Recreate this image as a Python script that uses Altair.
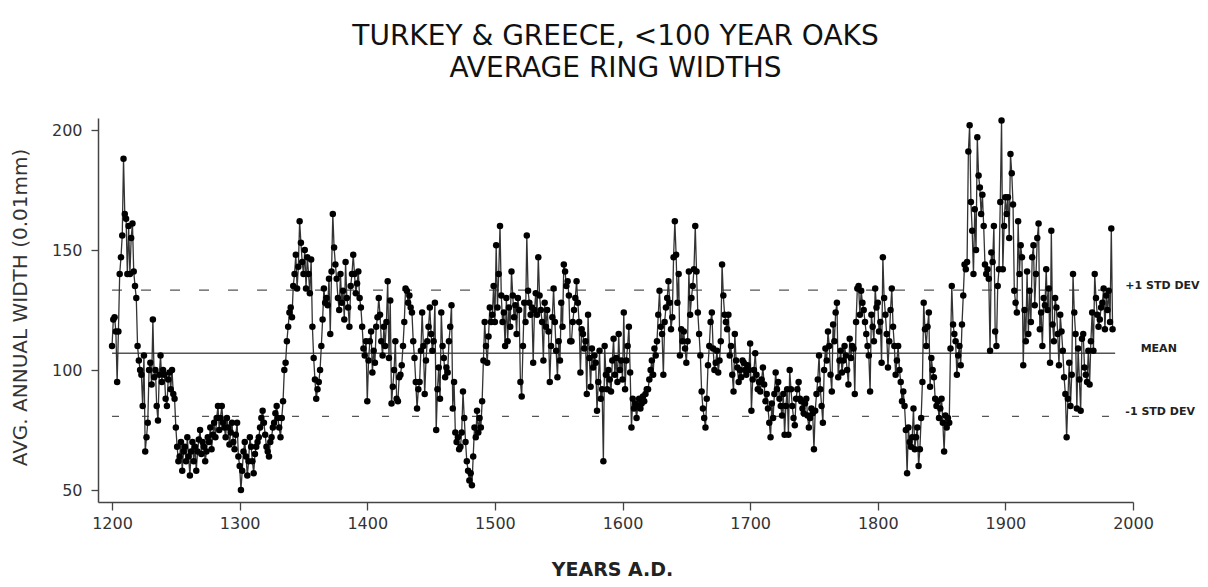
import altair as alt
import pandas as pd

# Average ring widths (0.01 mm), one value per year
w1200 = [110, 121, 122, 116, 95, 116, 140, 147, 156, 188,
         165, 163, 140, 160, 140, 155, 161, 141, 135, 130,
         110, 104, 100, 98, 85, 106, 66, 72, 78, 100,
         103, 94, 121, 97, 100, 85, 79, 98, 106, 95,
         100, 98, 88, 85, 96, 99, 92, 100, 90, 88,
         76, 68, 62, 64, 70, 58, 66, 68, 62, 72,
         64, 56, 66, 70, 62, 68, 58, 66, 71, 75,
         65, 70, 68, 62, 66, 72, 70, 76, 67, 73,
         78, 72, 80, 85, 75, 80, 85, 78, 76, 72,
         80, 76, 69, 74, 78, 70, 67, 73, 78, 64]
w1300 = [60, 50, 58, 66, 70, 64, 56, 62, 72, 68,
         62, 57, 65, 68, 70, 72, 76, 80, 83, 78,
         73, 68, 66, 64, 70, 72, 76, 78, 82, 85,
         80, 76, 72, 80, 87, 100, 103, 112, 118, 124,
         126, 122, 135, 140, 148, 134, 143, 162, 153, 145,
         140, 150, 134, 147, 140, 132, 146, 118, 105, 96,
         88, 92, 95, 100, 110, 121, 134, 128, 130, 127,
         138, 115, 141, 165, 151, 144, 138, 130, 125, 140,
         128, 133, 121, 145, 130, 126, 118, 135, 140, 148,
         140, 132, 136, 141, 130, 126, 118, 109, 106, 112]
w1400 = [87, 104, 112, 116, 99, 108, 103, 118, 122, 130,
         123, 112, 106, 118, 110, 120, 137, 105, 129, 86,
         93, 100, 112, 88, 87, 97, 98, 102, 110, 120,
         134, 133, 128, 131, 126, 124, 112, 105, 95, 84,
         92, 95, 108, 124, 110, 90, 104, 112, 118, 126,
         115, 108, 112, 128, 75, 92, 101, 88, 124, 110,
         105, 97, 101, 99, 112, 118, 127, 84, 95, 74,
         70, 72, 67, 68, 74, 91, 80, 70, 62, 58,
         54, 57, 52, 64, 76, 72, 83, 74, 80, 76,
         87, 104, 120, 110, 103, 114, 126, 120, 123, 135]
w1500 = [120, 152, 126, 140, 160, 131, 120, 124, 110, 130,
         112, 126, 118, 141, 131, 122, 127, 115, 130, 125,
         95, 89, 110, 128, 120, 156, 133, 128, 123, 126,
         103, 125, 132, 123, 147, 131, 125, 120, 104, 128,
         118, 125, 116, 95, 110, 122, 134, 120, 108, 97,
         112, 104, 128, 118, 144, 141, 135, 137, 131, 112,
         112, 120, 125, 130, 137, 128, 120, 99, 117, 115,
         109, 112, 90, 123, 105, 93, 109, 101, 106, 103,
         83, 95, 108, 88, 92, 62, 110, 98, 92, 100,
         96, 91, 104, 113, 98, 105, 95, 115, 100, 104]
w1600 = [96, 124, 92, 104, 110, 118, 99, 76, 88, 84,
         86, 80, 85, 88, 84, 86, 89, 87, 90, 92,
         92, 96, 100, 104, 98, 109, 106, 112, 123, 133,
         118, 115, 98, 120, 126, 130, 137, 128, 117, 122,
         147, 162, 148, 128, 140, 106, 117, 112, 116, 109,
         103, 112, 141, 123, 130, 135, 142, 160, 141, 124,
         115, 106, 91, 84, 80, 76, 88, 102, 110, 120,
         124, 109, 100, 103, 108, 99, 104, 112, 144, 131,
         123, 120, 117, 123, 106, 110, 98, 91, 115, 104,
         101, 95, 100, 97, 104, 103, 100, 98, 102, 100]
w1700 = [111, 83, 96, 100, 107, 98, 92, 95, 91, 96,
         101, 94, 87, 90, 84, 78, 72, 86, 80, 90,
         99, 92, 95, 88, 85, 81, 90, 73, 85, 92,
         73, 100, 92, 85, 80, 77, 88, 92, 95, 88,
         87, 84, 82, 86, 88, 81, 76, 80, 84, 82,
         67, 83, 90, 96, 106, 92, 85, 78, 100, 109,
         104, 116, 110, 98, 91, 119, 112, 124, 128, 97,
         104, 108, 99, 104, 110, 106, 100, 94, 113, 105,
         110, 109, 90, 120, 134, 135, 123, 133, 128, 125,
         120, 115, 110, 106, 91, 123, 118, 112, 134, 126]
w1800 = [128, 116, 120, 103, 147, 130, 123, 115, 101, 112,
         125, 134, 118, 110, 98, 104, 110, 100, 95, 87,
         91, 85, 75, 57, 76, 70, 68, 72, 84, 67,
         72, 76, 60, 67, 80, 95, 128, 117, 110, 118,
         124, 93, 105, 100, 97, 88, 85, 87, 80, 84,
         88, 78, 66, 81, 76, 80, 78, 109, 135, 119,
         115, 112, 98, 106, 110, 102, 119, 131, 144, 142,
         145, 191, 202, 170, 158, 140, 167, 150, 197, 181,
         176, 165, 173, 160, 144, 140, 142, 138, 108, 149,
         145, 160, 116, 110, 135, 142, 170, 204, 142, 160]
w1900 = [172, 165, 172, 155, 190, 182, 169, 133, 128, 124,
         162, 140, 152, 147, 102, 125, 112, 141, 115, 133,
         120, 147, 152, 127, 140, 155, 161, 117, 124, 110,
         130, 127, 142, 125, 134, 103, 158, 119, 112, 130,
         126, 115, 102, 123, 116, 108, 97, 90, 72, 88,
         103, 85, 98, 140, 124, 115, 84, 109, 96, 83,
         113, 115, 101, 98, 95, 108, 94, 112, 124, 108,
         140, 130, 123, 118, 121, 126, 128, 134, 117, 131,
         125, 133, 120, 159, 117]

first_year = 1200
widths = w1200 + w1300 + w1400 + w1500 + w1600 + w1700 + w1800 + w1900
years = list(range(first_year, first_year + len(widths)))
df = pd.DataFrame({"year": years, "width": widths})

# reference levels
mean_val = 107.0
sd_val = 26.3
ref_names = ["+1 STD DEV", "MEAN", "-1 STD DEV"]
ref_levels = [mean_val + sd_val, mean_val, mean_val - sd_val]
ref_start = 1200
ref_end = 1986
label_x = [1994, 2006, 1994]

ref_df = pd.DataFrame({"name": ref_names, "level": ref_levels,
                       "x1": [ref_start] * 3, "x2": [ref_end] * 3,
                       "lx": label_x})

x_ticks = list(range(1200, 2001, 100))
y_ticks = [50, 100, 150, 200]

x_scale = alt.Scale(domain=[1189, 2000], nice=False, zero=False)
y_scale = alt.Scale(domain=[45, 205], nice=False, zero=False)

tick_font = "DejaVu Sans"
x_axis = alt.Axis(values=x_ticks, format="d", title="YEARS A.D.", grid=False,
                  labelFont=tick_font, labelFontSize=16, labelColor="#333",
                  labelFlush=False, labelPadding=5, tickSize=8, tickColor="#444",
                  domainColor="#444", domainWidth=1.5, tickWidth=1.3,
                  titleFont="DejaVu Sans", titleFontSize=19, titleFontWeight="bold",
                  titleColor="#222", titleX=514, titleY=67, titleBaseline="middle",
                  titleAlign="center")
y_axis = alt.Axis(values=y_ticks, format="d", title="AVG. ANNUAL WIDTH (0.01mm)", grid=False,
                  labelFont=tick_font, labelFontSize=16, labelColor="#333",
                  labelFlush=False, labelPadding=9, tickSize=7, tickColor="#444",
                  domainColor="#444", domainWidth=1.5, tickWidth=1.3,
                  titleFont="DejaVu Sans", titleFontSize=20, titleFontWeight="normal",
                  titleColor="#333", titleAngle=270, titleX=-78, titleY=189,
                  titleBaseline="middle", titleAlign="center")

X = alt.X("year:Q", scale=x_scale, axis=x_axis)
Y = alt.Y("width:Q", scale=y_scale, axis=y_axis)

line = alt.Chart(df).mark_line(color="#333", strokeWidth=1.3).encode(x=X, y=Y)
points = alt.Chart(df).mark_circle(size=42, color="black", opacity=1).encode(x=X, y=Y)

rx = alt.X("x1:Q", scale=x_scale, axis=x_axis)
ry = alt.Y("level:Q", scale=y_scale, axis=y_axis)

mean_rule = alt.Chart(ref_df).transform_filter(alt.datum.name == "MEAN").mark_rule(
    color="#555", strokeWidth=1.6).encode(x=rx, x2="x2:Q", y=ry)
plus_rule = alt.Chart(ref_df).transform_filter(alt.datum.name == "+1 STD DEV").mark_rule(
    color="#555", strokeWidth=1.2, strokeDash=[10, 19]).encode(x=rx, x2="x2:Q", y=ry)
minus_rule = alt.Chart(ref_df).transform_filter(alt.datum.name == "-1 STD DEV").mark_rule(
    color="#555", strokeWidth=1.2, strokeDash=[7, 23]).encode(x=rx, x2="x2:Q", y=ry)

labels = alt.Chart(ref_df).mark_text(
    align="left", baseline="bottom", dy=1, font="DejaVu Sans", fontSize=11,
    fontWeight="bold", color="#222").encode(
    x=alt.X("lx:Q", scale=x_scale, axis=x_axis), y=ry, text="name:N")

chart = alt.layer(mean_rule, plus_rule, minus_rule, line, points, labels).properties(
    width=1035, height=384,
    background="white",
    title=alt.TitleParams(["TURKEY & GREECE, <100 YEAR OAKS", "AVERAGE RING WIDTHS"],
                          font="DejaVu Sans", fontSize=28, fontWeight="normal",
                          color="#111", anchor="middle", offset=34, lineHeight=32),
    autosize=alt.AutoSizeParams(type="none"),
    padding={"left": 90, "top": 110, "right": 67, "bottom": 77},
).configure_view(strokeWidth=0, strokeOpacity=0)

chart.save("out.html", embed_options={"renderer": "svg", "actions": False})
